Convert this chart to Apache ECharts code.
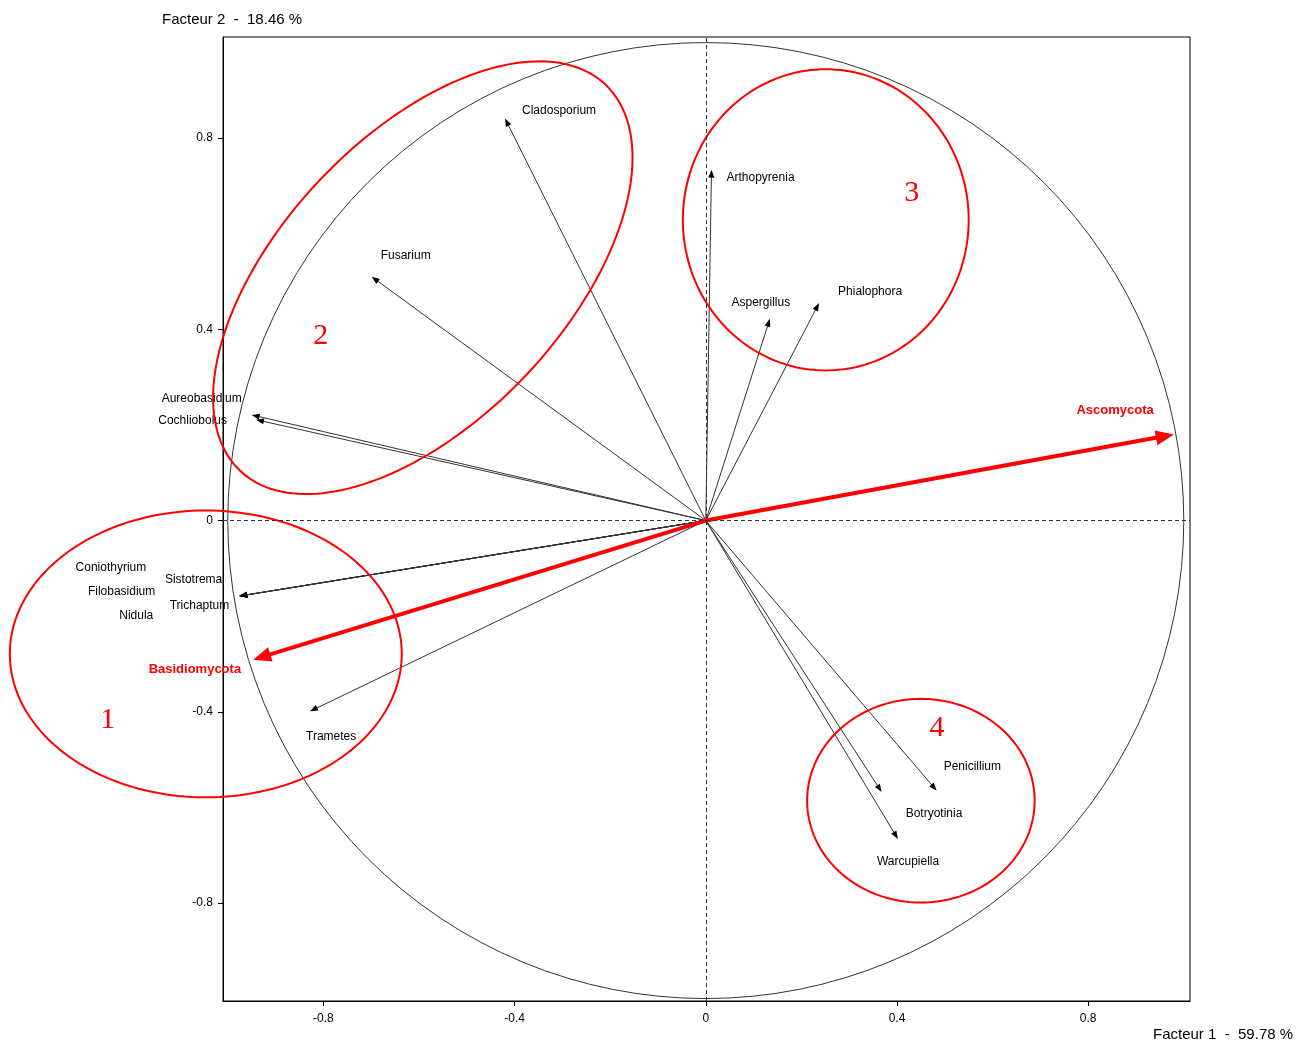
<!DOCTYPE html>
<html><head><meta charset="utf-8">
<script src="https://cdn.jsdelivr.net/npm/echarts@6/dist/echarts.min.js"></script>
<style>html,body{margin:0;padding:0;background:#fff}#c{width:1304px;height:1044px}</style>
</head><body><div id="c"></div>
<script>
// ---- data ----
const variables = ['Cladosporium','Fusarium','Arthopyrenia','Aspergillus','Phialophora','Aureobasidium','Cochliobolus','Coniothyrium','Sistotrema','Filobasidium','Trichaptum','Nidula','Trametes','Penicillium','Botryotinia','Warcupiella'];
const factor1 = [-0.420,-0.699,0.012,0.134,0.237,-0.950,-0.941,-0.976,-0.976,-0.976,-0.976,-0.976,-0.828,0.483,0.368,0.402];
const factor2 = [0.841,0.510,0.734,0.422,0.455,0.221,0.211,-0.158,-0.158,-0.158,-0.158,-0.158,-0.399,-0.565,-0.568,-0.666];
const phyla = ['Ascomycota','Basidiomycota'];
const phylaF1 = [0.979,-0.947];
const phylaF2 = [0.180,-0.291];
const tickValues = [-0.8,-0.4,0,0.4,0.8];
const groupNames = ['1','2','3','4'];
const groupCx = [-1.046,-0.592,0.251,0.450];
const groupCy = [-0.279,0.508,0.629,-0.586];
const groupRx = [0.410,0.556,0.299,0.238];
const groupRy = [0.300,0.297,0.315,0.213];
const groupAngle = [0,46.6,0,0];
const titleF1 = 'Facteur 1  -  59.78 %';
const titleF2 = 'Facteur 2  -  18.46 %';

// ---- styles (label offsets in pixels from arrow tip) ----
const labelStyle = {
  Cladosporium:{dx:17,dy:-8,align:'left'},
  Fusarium:{dx:9,dy:-21,align:'left'},
  Arthopyrenia:{dx:15,dy:8,align:'left'},
  Aspergillus:{dx:-9,dy:-16,align:'center'},
  Phialophora:{dx:19,dy:-11,align:'left'},
  Aureobasidium:{dx:-10,dy:-16,align:'right'},
  Cochliobolus:{dx:-29,dy:1,align:'right'},
  Coniothyrium:{dx:-93,dy:-28,align:'right'},
  Sistotrema:{dx:-17,dy:-16,align:'right'},
  Filobasidium:{dx:-84,dy:-4,align:'right'},
  Trichaptum:{dx:-10,dy:10,align:'right'},
  Nidula:{dx:-86,dy:20,align:'right'},
  Trametes:{dx:-4,dy:25,align:'left'},
  Penicillium:{dx:7,dy:-24,align:'left'},
  Botryotinia:{dx:24,dy:22,align:'left'},
  Warcupiella:{dx:-21,dy:23,align:'left'},
  Ascomycota:{dx:-20,dy:-24,align:'right'},
  Basidiomycota:{dx:-12,dy:10,align:'right'}
};
const groupLabelOffset = [[-98,66],[-102,58],[86,-27],[16,-73]];
const FONT = '"Liberation Sans", Arial, sans-serif';

function arrowRenderer(names, color, lw, hl, hw, font, textColor){
  return function(params, api){
    const o = api.coord([0,0]);
    const p = api.coord([api.value(0), api.value(1)]);
    const name = names[params.dataIndex];
    const ls = labelStyle[name];
    const dx = p[0]-o[0], dy = p[1]-o[1];
    const L = Math.hypot(dx,dy), ux = dx/L, uy = dy/L;
    const bx = p[0]-ux*hl, by = p[1]-uy*hl;
    return {type:'group', children:[
      {type:'line', shape:{x1:o[0],y1:o[1],x2:bx+ux*1,y2:by+uy*1}, style:{stroke:color,lineWidth:lw}},
      {type:'polygon', shape:{points:[[p[0],p[1]],[bx-uy*hw,by+ux*hw],[bx+uy*hw,by-ux*hw]]}, style:{fill:color === '#333' ? '#000' : color}},
      {type:'text', x:p[0]+ls.dx, y:p[1]+ls.dy, style:{text:name, fill:textColor, font:font, align:ls.align, verticalAlign:'middle'}}
    ]};
  };
}

const chart = echarts.init(document.getElementById('c'), null, {renderer:'canvas'});
function axisCfg(min, max, margin){
  return {
    type:'value', min:min, max:max,
    axisLine:{show:true, onZero:false, lineStyle:{color:'#000', width:1}},
    axisTick:{show:true, length:5, customValues:tickValues, lineStyle:{color:'#000'}},
    axisLabel:{customValues:tickValues, color:'#000', fontSize:12, fontFamily:FONT, margin:margin,
      formatter:v => String(v)},
    splitLine:{show:false}
  };
}
chart.setOption({
  animation:false,
  backgroundColor:'#fff',
  grid:{left:223, top:37, width:967, height:964, show:true, borderColor:'#000', borderWidth:1},
  xAxis:axisCfg(-1.01, 1.013, 12),
  yAxis:axisCfg(-1.005, 1.0115, 10),
  graphic:[
    {type:'text', left:162, top:12, style:{text:titleF2, fill:'#000', font:'15px '+FONT}},
    {type:'text', left:1153, top:1027, style:{text:titleF1, fill:'#000', font:'15px '+FONT}}
  ],
  series:[
    {
      type:'custom', silent:true, clip:false,
      data:[[0,0]],
      encode:{x:0,y:1},
      renderItem:function(params, api){
        const c = api.coord([0,0]);
        const r = api.size([1,1])[0];
        return {type:'circle', shape:{cx:c[0],cy:c[1],r:r}, style:{fill:'none', stroke:'#333', lineWidth:1}};
      },
      markLine:{silent:true, symbol:'none', label:{show:false},
        lineStyle:{type:[4,3], color:'#333', width:1},
        data:[{xAxis:0},{yAxis:0}]}
    },
    {
      type:'custom', silent:true, clip:false,
      data:variables.map((n,i)=>[factor1[i],factor2[i]]),
      encode:{x:0,y:1},
      renderItem:arrowRenderer(variables,'#333',1,8,3,'12px '+FONT,'#000')
    },
    {
      type:'custom', silent:true, clip:false,
      data:phyla.map((n,i)=>[phylaF1[i],phylaF2[i]]),
      encode:{x:0,y:1},
      renderItem:arrowRenderer(phyla,'#ff0000',4,18,7.5,'bold 13px '+FONT,'#ff0000')
    },
    {
      type:'custom', silent:true, clip:false,
      data:groupNames.map((n,i)=>[groupCx[i],groupCy[i],groupRx[i],groupRy[i],groupAngle[i]]),
      encode:{x:0,y:1},
      renderItem:function(params, api){
        const cx=api.value(0), cy=api.value(1), rx=api.value(2), ry=api.value(3);
        const th=api.value(4)*Math.PI/180;
        const pts=[];
        for(let k=0;k<=180;k++){
          const t=k/180*2*Math.PI;
          const a=rx*Math.cos(t), b=ry*Math.sin(t);
          pts.push(api.coord([cx + a*Math.cos(th) - b*Math.sin(th), cy + a*Math.sin(th) + b*Math.cos(th)]));
        }
        const c = api.coord([cx,cy]);
        const off = groupLabelOffset[params.dataIndex];
        return {type:'group', children:[
          {type:'polygon', shape:{points:pts}, style:{fill:'none', stroke:'#ff0000', lineWidth:2}},
          {type:'text', x:c[0]+off[0], y:c[1]+off[1], style:{text:groupNames[params.dataIndex], fill:'#ff0000',
            font:'30px "Liberation Serif", "Times New Roman", serif', align:'center', verticalAlign:'middle'}}
        ]};
      }
    }
  ]
});
</script></body></html>
